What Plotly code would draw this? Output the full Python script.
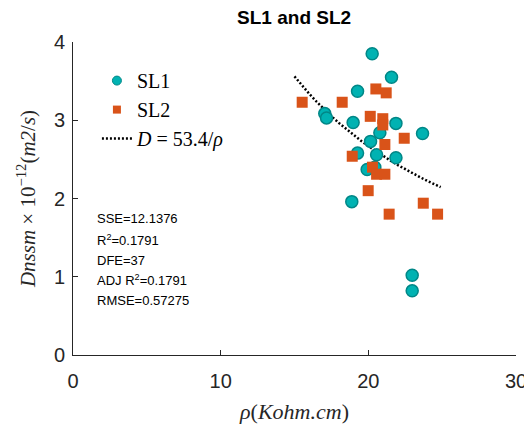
import plotly.graph_objects as go

# ---- data ----
sl1_rho = [20.26, 21.57, 19.27, 17.05, 17.17, 18.97, 21.87, 20.78, 23.67, 20.15,
           19.27, 20.56, 21.87, 19.92, 20.44, 18.88, 22.97, 22.97]
sl1_d = [3.85, 3.55, 3.37, 3.085, 3.03, 2.97, 2.96, 2.84, 2.83, 2.73,
         2.58, 2.56, 2.52, 2.37, 2.40, 1.96, 1.02, 0.82]

sl2_rho = [15.52, 18.23, 20.51, 21.21, 20.13, 20.98, 20.98, 22.43, 21.12, 18.91,
           20.28, 20.56, 21.12, 19.99, 23.72, 21.41, 24.69]
sl2_d = [3.23, 3.23, 3.40, 3.35, 3.05, 3.02, 2.94, 2.77, 2.69, 2.54,
         2.40, 2.31, 2.31, 2.10, 1.94, 1.80, 1.80]

fit_coef = 53.4
fit_rho = [15.0, 15.5, 16.0, 16.5, 17.0, 17.5, 18.0, 18.5, 19.0, 19.5, 20.0,
           20.5, 21.0, 21.5, 22.0, 22.5, 23.0, 23.5, 24.0, 24.5, 24.9]
fit_d = [fit_coef / r for r in fit_rho]

x_ticks = [0, 10, 20, 30]
y_ticks = [0, 1, 2, 3, 4]

stats_labels = ["SSE=12.1376", "R<sup>2</sup>=0.1791", "DFE=37",
                "ADJ R<sup>2</sup>=0.1791", "RMSE=0.57275"]
stats_y = [1.75, 1.47, 1.21, 0.96, 0.70]

teal = "#00B2B2"
teal_edge = "#008787"
orange = "#D95319"
axis_col = "#262626"
serif = "Liberation Serif, DejaVu Serif, serif"
sans = "Liberation Sans, Arial, sans-serif"

fig = go.Figure()

fig.add_trace(go.Scatter(
    x=fit_rho, y=fit_d, mode="lines", showlegend=False,
    line=dict(color="black", width=2.5, dash="2px,2px"), hoverinfo="skip"))
fig.add_trace(go.Scatter(
    x=sl1_rho, y=sl1_d, mode="markers", showlegend=False,
    marker=dict(symbol="circle", size=12, color=teal,
                line=dict(color=teal_edge, width=1.5))))
fig.add_trace(go.Scatter(
    x=sl2_rho, y=sl2_d, mode="markers", showlegend=False,
    marker=dict(symbol="square", size=11, color=orange, line=dict(width=0))))

# legend-only entries (smaller symbols, as in the reference legend)
fig.add_trace(go.Scatter(
    x=[None], y=[None], mode="markers", name="SL1",
    marker=dict(symbol="circle", size=9, color=teal,
                line=dict(color=teal_edge, width=1))))
fig.add_trace(go.Scatter(
    x=[None], y=[None], mode="markers", name="SL2",
    marker=dict(symbol="square", size=8, color=orange, line=dict(width=0))))
fig.add_trace(go.Scatter(
    x=[None], y=[None], mode="lines", name="<i>D</i> = 53.4/<i>ρ</i>",
    line=dict(color="black", width=2.5, dash="2px,2px")))

for lab, yy in zip(stats_labels, stats_y):
    fig.add_annotation(x=1.5, y=yy, xref="x", yref="y", text=lab,
                       showarrow=False, xanchor="left", yanchor="middle",
                       font=dict(family=sans, size=13, color="black"))

# page body has an 8px margin, so the figure is sized/placed to compensate
fig.update_layout(
    width=524, height=424,
    margin=dict(l=65, r=16, t=34, b=77, autoexpand=False),
    paper_bgcolor="white", plot_bgcolor="white",
    title=dict(text="<b>SL1 and SL2</b>", x=0.546, xanchor="center",
               y=0.979, yanchor="middle",
               font=dict(family=sans, size=19, color="black")),
    legend=dict(x=0.054, y=0.939, xanchor="left", yanchor="top",
                bgcolor="rgba(0,0,0,0)", borderwidth=0,
                font=dict(family=serif, size=20, color="black"),
                itemwidth=30, tracegroupgap=0),
    showlegend=True,
)

fig.update_xaxes(
    range=[0, 30], tickvals=x_ticks, ticks="inside", ticklen=5,
    tickcolor=axis_col, showline=True, linecolor=axis_col, linewidth=1,
    showgrid=False, zeroline=False, mirror=False, automargin=False,
    tickfont=dict(family=sans, size=20, color=axis_col),
    ticklabelstandoff=8,
    title=dict(text="<i>ρ</i>(<i>Kohm.cm</i>)", standoff=12,
               font=dict(family=serif, size=22, color=axis_col)))
fig.update_yaxes(
    range=[0, 4], tickvals=y_ticks, ticks="inside", ticklen=5,
    tickcolor=axis_col, showline=True, linecolor=axis_col, linewidth=1,
    showgrid=False, zeroline=False, mirror=False, automargin=False,
    tickfont=dict(family=sans, size=20, color=axis_col),
    ticklabelstandoff=3,
    title=dict(text="<i>Dnssm</i> × 10<sup>−12</sup>(<i>m2</i>/<i>s</i>)",
               standoff=12, font=dict(family=serif, size=21, color=axis_col)))

fig.write_html("out.html")
